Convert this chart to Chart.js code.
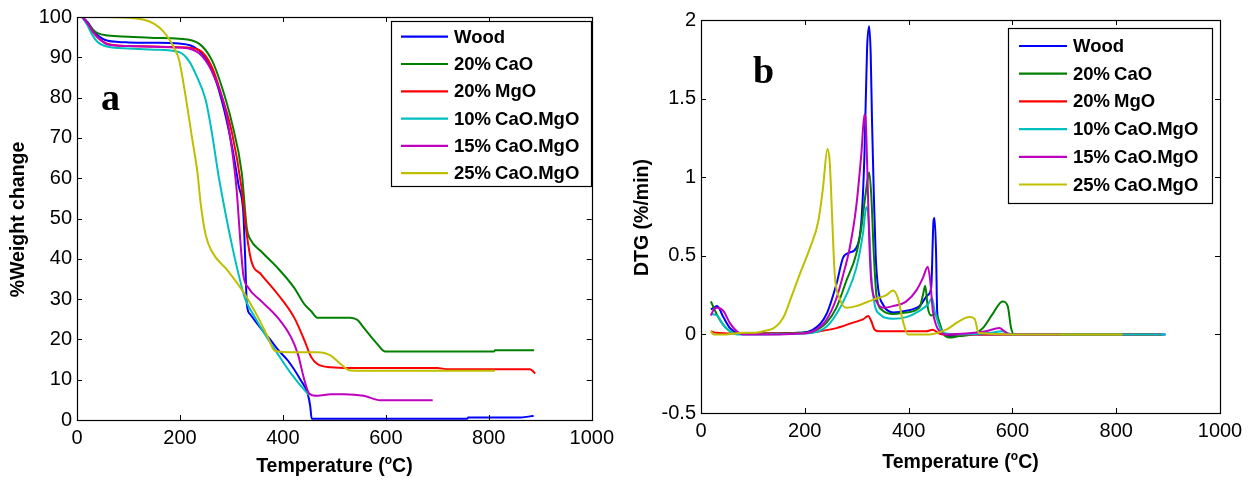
<!DOCTYPE html>
<html><head><meta charset="utf-8">
<script src="https://cdn.jsdelivr.net/npm/chart.js@4.4.1/dist/chart.umd.min.js"></script>
<style>
html,body{margin:0;padding:0;background:#fff;}
#wrap{position:relative;width:1251px;height:480px;overflow:hidden;}
#ca{position:absolute;left:0;top:0;}
#cb{position:absolute;left:630px;top:0;}
</style></head><body>
<div id="wrap"><canvas id="ca" width="620" height="480"></canvas><canvas id="cb" width="621" height="480"></canvas></div>
<script>
const FONT = '"Liberation Sans", Arial, sans-serif';
const SERIF = '"Liberation Serif", "Times New Roman", serif';

const seriesNames = ['Wood','20%CaO','20%MgO','10%CaO.MgO','15%CaO.MgO','25%CaO.MgO'];
const seriesColors = ['#0000FF','#008000','#FF0000','#00BFBF','#BF00BF','#BFBF00'];

const tempTicks = [0,200,400,600,800,1000];
const weightTicks = [0,10,20,30,40,50,60,70,80,90,100];
const dtgTicks = [-0.5,0,0.5,1,1.5,2];

// Panel a: % weight change vs temperature
const woodT_a = [10,20,30,40,50,60,80,100,150,198,237,262,281,301,314,323,326.5,330,336,346,365,377,390,410,435,448,453,456,600,758,760,860,880,887];
const woodW   = [100,98.8,97,95.5,94.6,94.1,93.8,93.7,93.6,93.4,91.7,86.8,79.4,68,58.2,51.6,41,28.7,26.3,24.6,21.5,19.7,17.5,14.7,9.8,6.6,3.5,0.3,0.3,0.3,0.6,0.6,0.9,1.0];
const caoT_a  = [10,20,30,40,60,100,150,198,237,262,281,301,320,330,336,358,390,422,442,455,467,531,545,557,583,599,700,810,812,888];
const caoW    = [100,98.5,97,96,95.4,95.1,94.8,94.6,93.4,89.3,82.8,73.7,61.4,47.5,45,41.8,37.7,32.8,28.7,27,25.4,25.4,24.8,22.9,18.9,17.0,17.0,17.0,17.3,17.3];
const mgoT_a  = [10,20,30,40,60,100,150,198,237,262,281,301,320,330,339,358,390,422,442,455,467,493,531,700,720,880,885,890];
const mgoW    = [100,98.5,96.5,95,93.3,92.8,92.7,92.5,91.8,87.6,80.5,71.3,57.3,45.9,39.3,36.1,31.2,25.4,19.7,15.6,13.9,13.1,12.9,12.9,12.6,12.6,12.2,11.5];
const cm10T_a = [10,20,30,40,60,100,150,198,218,230,250,262,275,288,301,314,326,346,365,390,416,442,451];
const cm10W   = [100,98,95.5,93.8,92.6,92.2,91.9,91.3,89,86,79.4,71.3,60.6,51.6,43.4,36.1,30.3,25.4,21.3,16.4,11.5,7.4,6.2];
const cm15T_a = [10,20,30,40,60,100,150,198,237,262,288,301,310,317,323,333,358,390,416,429,442,451,467,493,519,557,589,691];
const cm15W   = [100,98.5,96.5,95,93.2,92.8,92.6,92.4,91,86.5,77,67.2,57.3,45,36.1,32.8,29.5,25.4,20.5,16.4,9.8,6.6,6.0,6.4,6.4,6.0,4.9,4.9];
const cm25T_a = [10,50,100,130,150,165,179,190,198,211,224,234,240,250,262,294,326,352,371,384,422,467,493,512,531,600,700,812];
const cm25W   = [100,100,99.8,99.3,98.3,96.8,94.5,92,89.5,80.3,69.6,61.4,54,45.9,41.8,36.9,31.2,25.4,20.5,17.2,16.8,16.8,16,13.9,12.3,12.2,12.2,12.2];

// Panel b: DTG vs temperature
const woodT_b = [19,25,31,43,56,69,80,120,190,216,242,261,274,286,299,309,315,320,324,327,329.5,333,336.5,341,350.6,370,395.6,421,437,443.6,448,450,453,455,459.6,466,480,520,600,895];
const woodD   = [0.16,0.17,0.18,0.11,0.04,0.01,0.005,0.005,0.01,0.03,0.13,0.32,0.49,0.52,0.55,0.72,1.15,1.82,1.96,1.78,1.36,0.89,0.51,0.30,0.19,0.14,0.15,0.18,0.25,0.30,0.72,0.74,0.51,0.15,0.06,0.01,-0.01,0,0,0];
const caoT_b  = [19,30,43,56,80,150,190,216,242,261,280,299,309,317,324,328,333,338,350.6,370,395.6,421,427.6,432,437,443.6,450,456,466,479,498,524,543,562,581,591,597.5,604,700,888];
const caoD    = [0.21,0.13,0.06,0.02,0.005,0.005,0.01,0.02,0.075,0.17,0.34,0.51,0.68,0.89,1.03,0.89,0.51,0.25,0.15,0.13,0.14,0.17,0.25,0.31,0.17,0.12,0.13,0.11,0.01,-0.02,-0.01,0,0.04,0.13,0.21,0.18,0.04,0,0,0];
const mgoT_b  = [19,30,60,100,190,229,261,293,312,322,328,334.6,344,400,434,446.7,456,466,600,888];
const mgoD    = [0.02,0.01,0.005,0.005,0.005,0.02,0.04,0.075,0.095,0.117,0.085,0.03,0.02,0.02,0.02,0.03,0.01,0,0,0];
const cm10T_b = [19,31,43,56,69,100,190,216,242,261,280,299,312,318.6,324,328,334.6,344,370,395.6,421,437,445.5,450,456,466,500,560,580,600,895];
const cm10D   = [0.13,0.12,0.06,0.02,0,0,0.005,0.01,0.05,0.13,0.25,0.42,0.64,0.81,0.68,0.38,0.19,0.13,0.10,0.11,0.15,0.19,0.23,0.15,0.085,0.01,0,0.01,0.02,0,0];
const cm15T_b = [19,25,31,43,56,69,81,150,190,216,242,261,274,286.5,299,309,315,317,320.5,324,328,338,350.6,370,395.6,415,427.6,437,441.7,446.7,453,459.6,472.5,511,549,575,584.6,594,691];
const cm15D   = [0.12,0.16,0.17,0.15,0.07,0.02,0,0,0.005,0.02,0.095,0.23,0.38,0.55,0.81,1.15,1.40,1.38,1.04,0.62,0.34,0.21,0.17,0.18,0.21,0.28,0.36,0.43,0.34,0.15,0.06,0.02,0,0.005,0.02,0.04,0.02,0,0];
const cm25T_b = [19,25,50,81,100,120,140,152,162,171,190,210,226,235,243.6,248,253,257.7,267,280,299,331,357,370,379.5,389,398.7,440,472.5,498,517,527,535,600,812];
const cm25D   = [0.02,0,0,0.01,0.01,0.02,0.04,0.075,0.13,0.21,0.38,0.55,0.72,0.93,1.18,1.10,0.72,0.38,0.23,0.17,0.18,0.22,0.25,0.28,0.23,0.085,0,0,0.03,0.085,0.11,0.10,0.01,0,0];

function pts(xs, ys){ return xs.map((x,i)=>({x:x, y:ys[i]})); }
function makeDatasets(list){
  return list.map((d,i)=>({
    label: seriesNames[i], data: pts(d[0], d[1]),
    borderColor: seriesColors[i], backgroundColor: seriesColors[i],
    borderWidth: 2, pointRadius: 0, fill: false,
    order: list.length - i, cubicInterpolationMode: 'monotone'
  }));
}

const matlabPlugin = {
  id: 'matlab',
  afterDatasetsDraw(chart, args, o){
    const ctx = chart.ctx, a = chart.chartArea, xs = chart.scales.x, ys = chart.scales.y;
    ctx.save();
    // frame box
    ctx.strokeStyle = '#000'; ctx.lineWidth = 1.2;
    ctx.strokeRect(Math.round(a.left)+0.5, Math.round(a.top)+0.5, Math.round(a.right-a.left), Math.round(a.bottom-a.top));
    // inward ticks on all four sides
    const L = 5;
    ctx.lineWidth = 1;
    ctx.beginPath();
    xs.ticks.forEach(t=>{
      const px = Math.round(xs.getPixelForValue(t.value))+0.5;
      ctx.moveTo(px, a.bottom); ctx.lineTo(px, a.bottom-L);
      ctx.moveTo(px, a.top); ctx.lineTo(px, a.top+L);
    });
    ys.ticks.forEach(t=>{
      const py = Math.round(ys.getPixelForValue(t.value))+0.5;
      ctx.moveTo(a.left, py); ctx.lineTo(a.left+L, py);
      ctx.moveTo(a.right, py); ctx.lineTo(a.right-L, py);
    });
    ctx.stroke();

    // legend
    const lg = o.legend;
    ctx.fillStyle = '#fff';
    ctx.fillRect(lg.x, lg.y, lg.w, lg.h);
    ctx.strokeStyle = '#000'; ctx.lineWidth = 1.2;
    ctx.strokeRect(lg.x+0.5, lg.y+0.5, lg.w, lg.h);
    ctx.font = 'bold 18.5px ' + FONT;
    ctx.textBaseline = 'middle'; ctx.textAlign = 'left';
    chart.data.datasets.forEach((ds, i)=>{
      const ry = lg.row0 + i*lg.step;
      ctx.strokeStyle = ds.borderColor; ctx.lineWidth = 2.2;
      ctx.beginPath(); ctx.moveTo(lg.x+lg.l0, ry); ctx.lineTo(lg.x+lg.l1, ry); ctx.stroke();
      ctx.fillStyle = '#000';
      const k = ds.label.indexOf('%');
      if (k >= 0){
        const p1 = ds.label.slice(0, k+1), p2 = ds.label.slice(k+1);
        ctx.fillText(p1, lg.x+lg.tx, ry+1);
        ctx.fillText(p2, lg.x+lg.tx+ctx.measureText(p1).width+4, ry+1);
      } else {
        ctx.fillText(ds.label, lg.x+lg.tx, ry+1);
      }
    });

    // panel letter
    ctx.fillStyle = '#000';
    ctx.font = 'bold 38px ' + SERIF;
    ctx.textBaseline = 'alphabetic'; ctx.textAlign = 'left';
    ctx.fillText(o.letter, o.letterX, o.letterY);

    // x title with superscript o
    const f1 = 'bold 19.5px ' + FONT, f2 = 'bold 12px ' + FONT;
    const t1 = 'Temperature (', t2 = 'o', t3 = 'C)';
    ctx.font = f1; const w1 = ctx.measureText(t1).width, w3 = ctx.measureText(t3).width;
    ctx.font = f2; const w2 = ctx.measureText(t2).width;
    const cx = (a.left + a.right)/2 + o.xTitleDx;
    let sx = cx - (w1+w2+w3)/2;
    const base = o.xTitleY;
    ctx.font = f1; ctx.fillText(t1, sx, base);
    ctx.font = f2; ctx.fillText(t2, sx+w1, base-8);
    ctx.font = f1; ctx.fillText(t3, sx+w1+w2, base);

    // y title
    ctx.save();
    ctx.translate(o.yTitleX, (a.top + a.bottom)/2 + 1);
    ctx.rotate(-Math.PI/2);
    ctx.font = 'bold 19.5px ' + FONT;
    ctx.textAlign = 'center'; ctx.textBaseline = 'middle';
    ctx.fillText(o.yTitle, 0, 0);
    ctx.restore();

    ctx.restore();
  }
};

function makeChart(id, datasets, cfg){
  return new Chart(document.getElementById(id), {
    type: 'line',
    data: { datasets: datasets },
    plugins: [matlabPlugin],
    options: {
      responsive: false, animation: false, devicePixelRatio: 1,
      layout: { padding: { left: 0, top: cfg.top, right: cfg.right, bottom: 0 } },
      plugins: { legend: { display: false }, tooltip: { enabled: false }, matlab: cfg.m },
      scales: {
        x: {
          type: 'linear', min: 0, max: 1000,
          afterFit(s){ s.height = cfg.xh; },
          afterBuildTicks(s){ s.ticks = tempTicks.map(v=>({value:v})); },
          ticks: { padding: cfg.xpad, color: '#000', font: { size: 20, family: FONT }, maxRotation: 0, autoSkip: false, callback: v=>String(v) },
          grid: { display: false, drawTicks: false }, border: { display: false }
        },
        y: {
          type: 'linear', min: cfg.ymin, max: cfg.ymax,
          afterFit(s){ s.width = cfg.yw; },
          afterBuildTicks(s){ s.ticks = cfg.yticks.map(v=>({value:v})); },
          ticks: { padding: 5, color: '#000', font: { size: 20, family: FONT }, autoSkip: false, callback: v=>String(v) },
          grid: { display: false, drawTicks: false }, border: { display: false }
        }
      }
    }
  });
}

makeChart('ca', makeDatasets([
  [woodT_a, woodW],[caoT_a, caoW],[mgoT_a, mgoW],[cm10T_a, cm10W],[cm15T_a, cm15W],[cm25T_a, cm25W]
]), {
  top: 13, right: 23, xh: 60, yw: 77, xpad: 6, ymin: 0, ymax: 100, yticks: weightTicks,
  m: { legend: { x: 391, y: 21, w: 200, h: 165, row0: 36.7, step: 27.3, l0: 10, l1: 57, tx: 63 },
       letter: 'a', letterX: 101, letterY: 110, xTitleDx: 0, xTitleY: 472, yTitle: '%Weight change', yTitleX: 19 }
});

makeChart('cb', makeDatasets([
  [woodT_b, woodD],[caoT_b, caoD],[mgoT_b, mgoD],[cm10T_b, cm10D],[cm15T_b, cm15D],[cm25T_b, cm25D]
]), {
  top: 20, right: 31, xh: 67, yw: 71, xpad: 6, ymin: -0.5, ymax: 2, yticks: dtgTicks,
  m: { legend: { x: 378, y: 28, w: 204, h: 175, row0: 46, step: 27.7, l0: 11, l1: 59, tx: 65 },
       letter: 'b', letterX: 123, letterY: 83, xTitleDx: 0, xTitleY: 468, yTitle: 'DTG (%/min)', yTitleX: 13 }
});
</script>
</body></html>
